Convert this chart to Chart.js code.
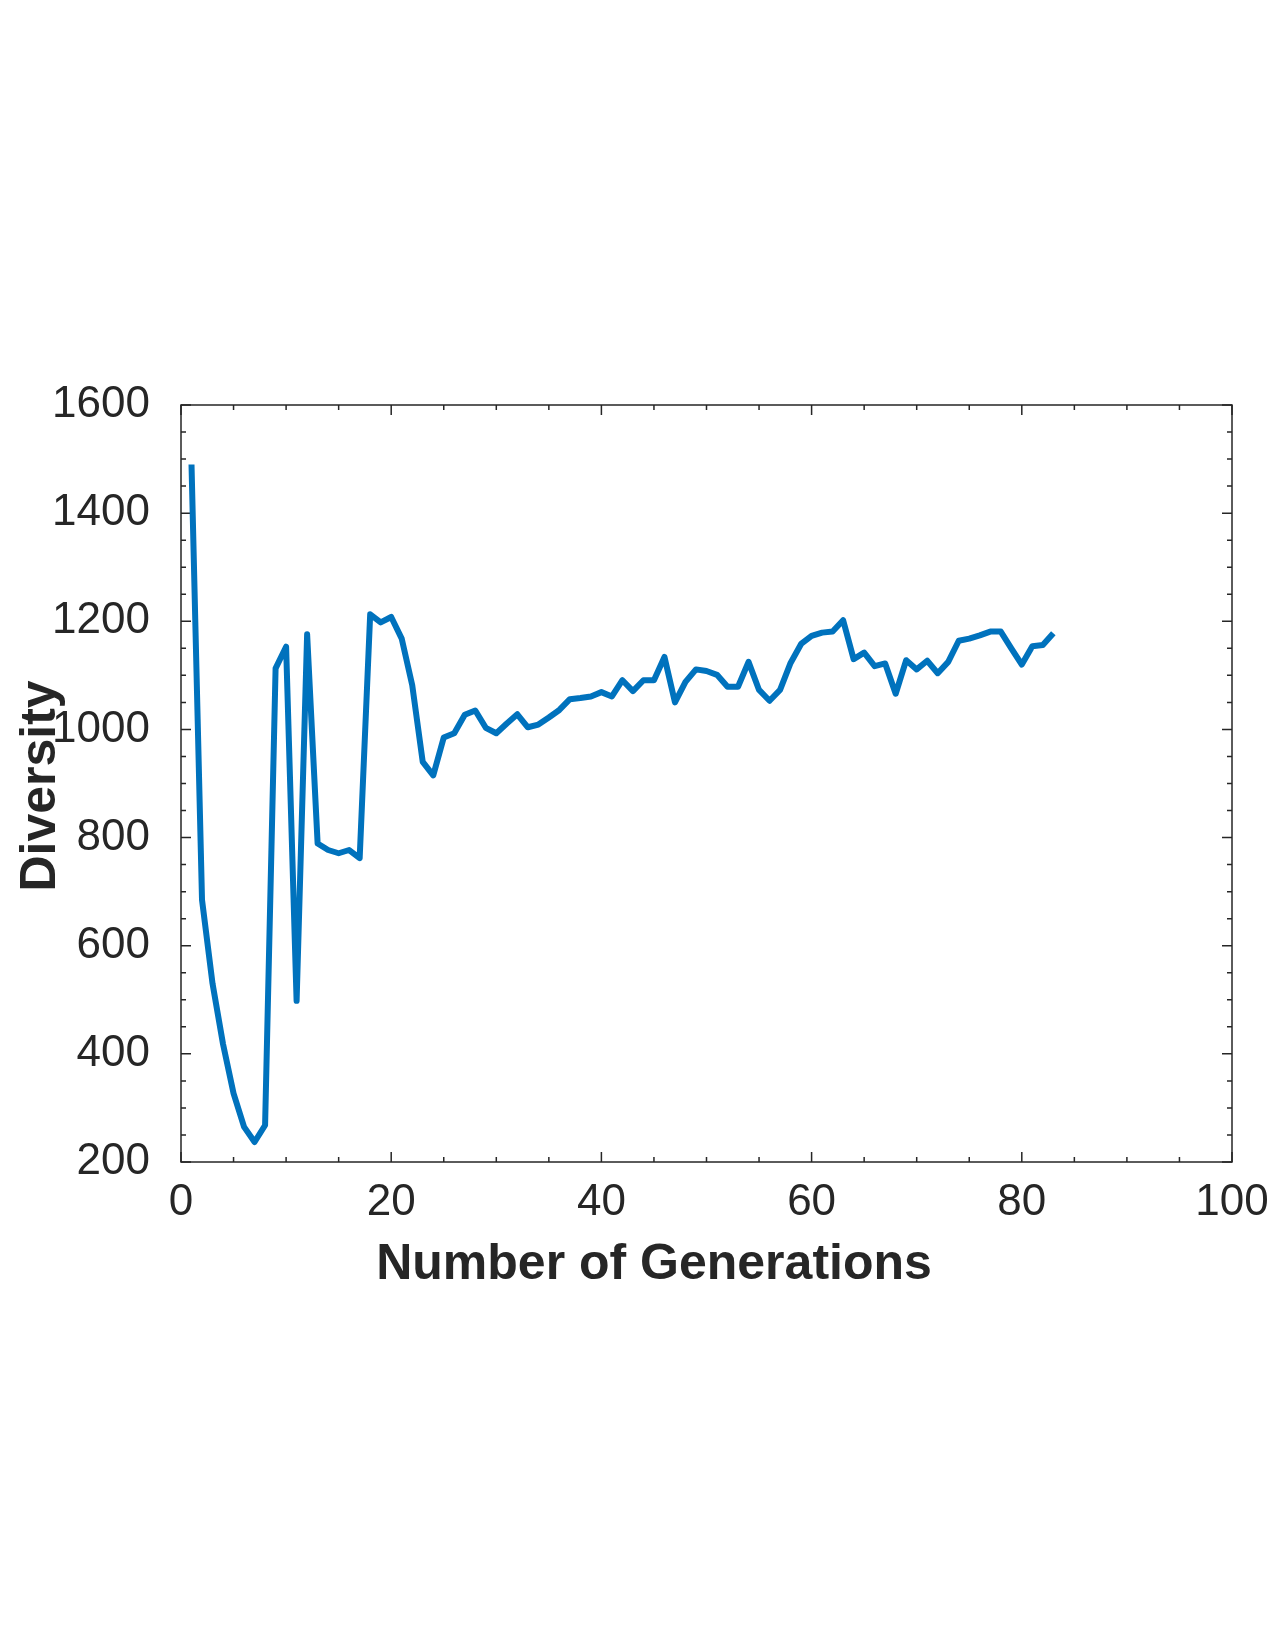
<!DOCTYPE html>
<html>
<head>
<meta charset="utf-8">
<title>Diversity vs generations</title>
<script src="https://cdn.jsdelivr.net/npm/chart.js@4.4.1/dist/chart.umd.min.js"></script>
<style>
  html, body { margin: 0; padding: 0; background: #fff; }
  canvas { display: block; }
</style>
</head>
<body>
<canvas id="chart" width="1275" height="1650"></canvas>
<script>
// generation number (x) and population diversity (y)
const generations = [
  1, 2, 3, 4, 5, 6, 7, 8, 9, 10,
  11, 12, 13, 14, 15, 16, 17, 18, 19, 20,
  21, 22, 23, 24, 25, 26, 27, 28, 29, 30,
  31, 32, 33, 34, 35, 36, 37, 38, 39, 40,
  41, 42, 43, 44, 45, 46, 47, 48, 49, 50,
  51, 52, 53, 54, 55, 56, 57, 58, 59, 60,
  61, 62, 63, 64, 65, 66, 67, 68, 69, 70,
  71, 72, 73, 74, 75, 76, 77, 78, 79, 80,
  81, 82, 83
];
const diversity = [
  1490, 685, 530, 418, 327, 265, 237, 268, 1113, 1153,
  498, 1176, 789, 777, 771, 777, 762, 1213, 1198, 1208,
  1168, 1082, 940, 915, 985, 993, 1027, 1035, 1003, 993,
  1011, 1028, 1004, 1009, 1022, 1036, 1056, 1058, 1061, 1069,
  1061, 1091, 1071, 1091, 1091, 1134, 1050, 1088, 1111, 1108,
  1101, 1079, 1079, 1125, 1073, 1053, 1073, 1123, 1158, 1173,
  1179, 1181, 1202, 1130, 1142, 1117, 1122, 1066, 1128, 1111,
  1127, 1104, 1125, 1164, 1168, 1174, 1181, 1181, 1150, 1120,
  1154, 1156, 1178
];
const xTicks = [0, 20, 40, 60, 80, 100];
const yTicks = [200, 400, 600, 800, 1000, 1200, 1400, 1600];

const ink = '#262626';
const font = '"Liberation Sans", Arial, Helvetica, sans-serif';

// MATLAB-like box: frame on all sides with inward major/minor ticks
const boxTicks = {
  id: 'boxTicks',
  beforeDatasetsDraw(chart) {
    const { ctx, chartArea: a, scales: { x, y } } = chart;
    ctx.save();
    ctx.strokeStyle = ink;
    ctx.lineWidth = 1.5;
    ctx.beginPath();
    for (let v = xTicks[0]; v <= xTicks[xTicks.length - 1]; v += 5) {
      const px = x.getPixelForValue(v);
      const len = xTicks.includes(v) ? 10 : 5;
      ctx.moveTo(px, a.bottom); ctx.lineTo(px, a.bottom - len);
      ctx.moveTo(px, a.top); ctx.lineTo(px, a.top + len);
    }
    for (let v = yTicks[0]; v <= yTicks[yTicks.length - 1]; v += 50) {
      const py = y.getPixelForValue(v);
      const len = yTicks.includes(v) ? 10 : 5;
      ctx.moveTo(a.left, py); ctx.lineTo(a.left + len, py);
      ctx.moveTo(a.right, py); ctx.lineTo(a.right - len, py);
    }
    ctx.stroke();
    ctx.strokeRect(a.left, a.top, a.right - a.left, a.bottom - a.top);
    ctx.restore();
  },
  afterDraw(chart) {
    const { ctx } = chart;
    ctx.save();
    ctx.fillStyle = ink;
    ctx.font = 'bold 50px ' + font;
    ctx.textAlign = 'center';
    ctx.textBaseline = 'alphabetic';
    ctx.fillText('Number of Generations', 654, 1279);
    ctx.translate(55, 786);
    ctx.rotate(-Math.PI / 2);
    ctx.fillText('Diversity', 0, 0);
    ctx.restore();
  }
};

new Chart(document.getElementById('chart'), {
  type: 'line',
  data: {
    datasets: [{
      label: 'Diversity',
      data: generations.map((g, i) => ({ x: g, y: diversity[i] })),
      borderColor: '#0072BD',
      borderWidth: 6,
      borderJoinStyle: 'round',
      borderCapStyle: 'butt',
      pointRadius: 0,
      tension: 0,
      fill: false,
    }],
  },
  options: {
    responsive: false,
    devicePixelRatio: 1,
    animation: false,
    events: [],
    layout: { padding: { top: 405, right: 43, bottom: 0, left: 0 } },
    plugins: { legend: { display: false }, tooltip: { enabled: false } },
    scales: {
      x: {
        type: 'linear',
        min: 0,
        max: 100,
        afterFit(scale) {
          scale.height = 488;
          scale.paddingLeft = 0;
          scale.paddingRight = 0;
        },
        afterBuildTicks(scale) { scale.ticks = xTicks.map(v => ({ value: v })); },
        grid: { display: false, drawTicks: false },
        border: { display: false },
        ticks: {
          color: ink, font: { family: font, size: 44 }, padding: 14, maxRotation: 0,
          callback: v => String(v),
        },
      },
      y: {
        type: 'linear',
        min: 200,
        max: 1600,
        afterFit(scale) {
          scale.width = 181;
          scale.paddingTop = 0;
          scale.paddingBottom = 0;
        },
        afterBuildTicks(scale) { scale.ticks = yTicks.map(v => ({ value: v })); },
        grid: { display: false, drawTicks: false },
        border: { display: false },
        ticks: {
          color: ink, font: { family: font, size: 44 }, padding: 31,
          callback: v => String(v),
        },
      },
    },
  },
  plugins: [boxTicks],
});
</script>
</body>
</html>
